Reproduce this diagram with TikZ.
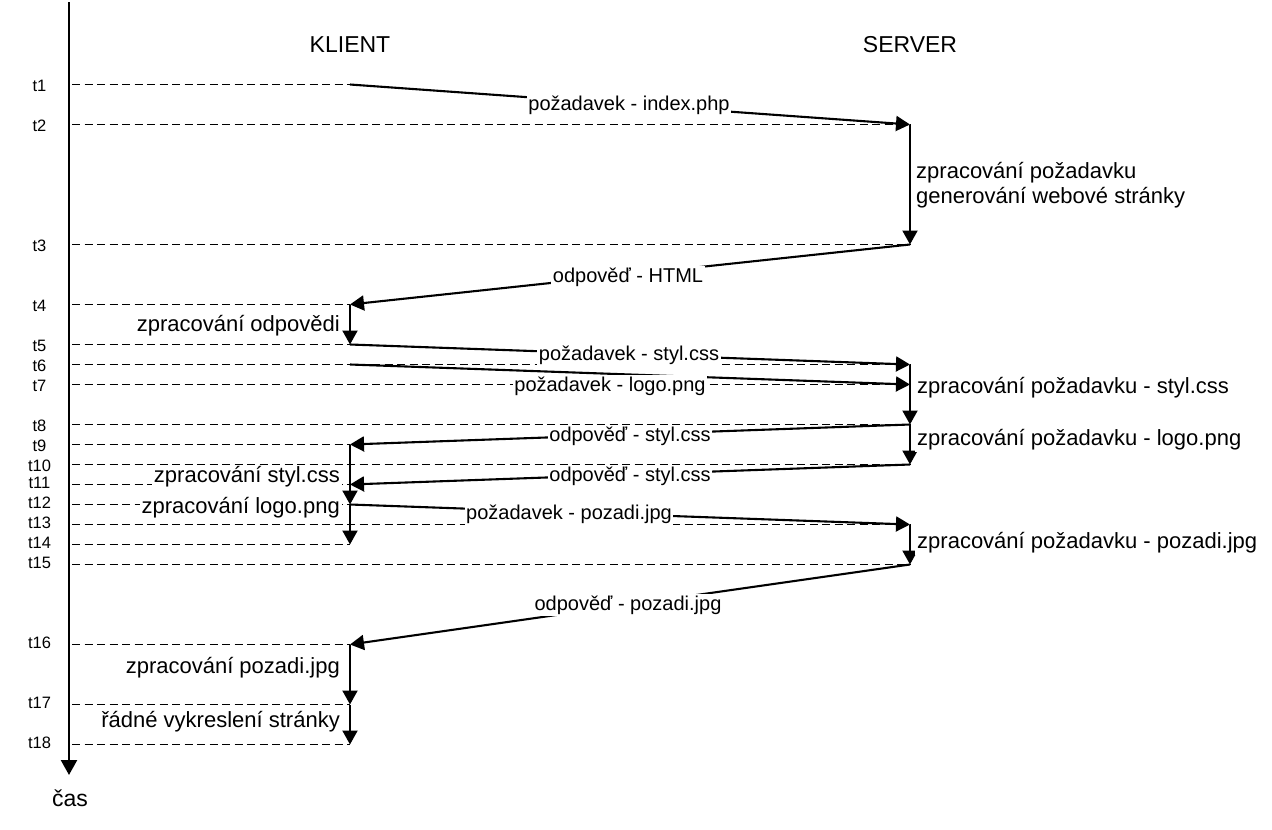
\documentclass[tikz,border=0pt]{standalone}
\usepackage{fontspec}
\setmainfont{Liberation Sans}
\usetikzlibrary{arrows.meta}
\begin{document}
\begin{tikzpicture}[x=1pt,y=-1pt,
  dline/.style={line width=1.8pt, dash pattern=on 8pt off 4.5pt},
  axisline/.style={line width=2.4pt, -{Triangle[length=15pt,width=16pt]}},
  arr/.style={line width=2.1pt, -{Triangle[length=14pt,width=15pt]}},
  msg/.style={fill=white, inner sep=1.5pt, font=\fontsize{20}{24}\selectfont},
  procl/.style={fill=white, inner sep=2pt, font=\fontsize{22}{26}\selectfont},
  tlab/.style={inner sep=0pt, font=\fontsize{16.5}{19}\selectfont},
  headl/.style={inner sep=0pt, font=\fontsize{23}{27}\selectfont}]
\useasboundingbox (0,0) rectangle (1272,830);

% axis
\coordinate (axtop) at (69,2);
\coordinate (axbot) at (69,775);
\draw[axisline] (axtop) -- (axbot);
\node[headl] (cas) at (70,798) {čas};

% headings
\node[headl] (klient) at (350,45) {KLIENT};
\node[headl] (server) at (910,45) {SERVER};

% time points
\foreach \i/\y/\ly in {1/84.5/86,2/124.5/126,3/244.5/246,4/304.5/306,5/344.5/345.5,6/364.5/365.5,7/384.5/385.5,8/424.5/425.5,9/444.5/445.5,10/464.5/466,11/484.5/483,12/504.5/503,13/524.5/523,14/544.5/543,15/564.5/562.5,16/644.5/642.5,17/704.5/702.5,18/744.5/743}{
  \coordinate (a\i) at (72,\y);
  \coordinate (c\i) at (350,\y);
  \coordinate (s\i) at (910,\y);
  \node[tlab] (t\i) at (39.5,\ly) {t\i};
}

% dashed guide lines
\foreach \i in {1,4,5,9,11,12,14,16,17,18}{ \draw[dline] (a\i) -- (c\i); }
\foreach \i in {2,3,6,7,8,10,13,15}{ \draw[dline] (a\i) -- (s\i); }

% messages
\draw[arr] (c1) -- (s2);
\draw[arr] (s3) -- (c4);
\draw[arr] (c5) -- (s6);
\draw[arr] (c6) -- (s7);
\draw[arr] (s8) -- (c9);
\draw[arr] (s10) -- (c11);
\draw[arr] (c12) -- (s13);
\draw[arr] (s15) -- (c16);

% processing
\draw[arr] (s2) -- (s3);
\draw[arr] (c4) -- (c5);
\draw[arr] (s6) -- (s8);
\draw[arr] (s8) -- (s10);
\draw[arr] (c9) -- (c12);
\draw[arr] (c12) -- (c14);
\draw[arr] (s13) -- (s15);
\draw[arr] (c16) -- (c17);
\draw[arr] (c17) -- (c18);

% message labels
\node[msg] (m1) at (629,105) {požadavek - index.php};
\node[msg] (m2) at (628,277) {odpověď - HTML};
\node[msg] (m3) at (629,355) {požadavek - styl.css};
\node[msg] (m4) at (610,386) {požadavek - logo.png};
\node[msg] (m5) at (630,436) {odpověď - styl.css};
\node[msg] (m6) at (630,476) {odpověď - styl.css};
\node[msg] (m7) at (569,514) {požadavek - pozadi.jpg};
\node[msg] (m8) at (628,605) {odpověď - pozadi.jpg};

% processing labels, server
\node[procl, anchor=west, align=left] (p1) at (914,185) {zpracování požadavku\\[-1pt]generování webové stránky};
\node[procl, anchor=west] (p2) at (915,388) {zpracování požadavku - styl.css};
\node[procl, anchor=west] (p3) at (915,440) {zpracování požadavku - logo.png};
\node[procl, anchor=west] (p4) at (915,543) {zpracování požadavku - pozadi.jpg};

% processing labels, client
\node[procl, anchor=east] (q1) at (342,326) {zpracování odpovědi};
\node[procl, anchor=east] (q2) at (342,477) {zpracování styl.css};
\node[procl, anchor=east] (q3) at (342,508) {zpracování logo.png};
\node[procl, anchor=east] (q4) at (342,668) {zpracování pozadi.jpg};
\node[procl, anchor=east] (q5) at (342,722) {řádné vykreslení stránky};
\end{tikzpicture}
\end{document}
